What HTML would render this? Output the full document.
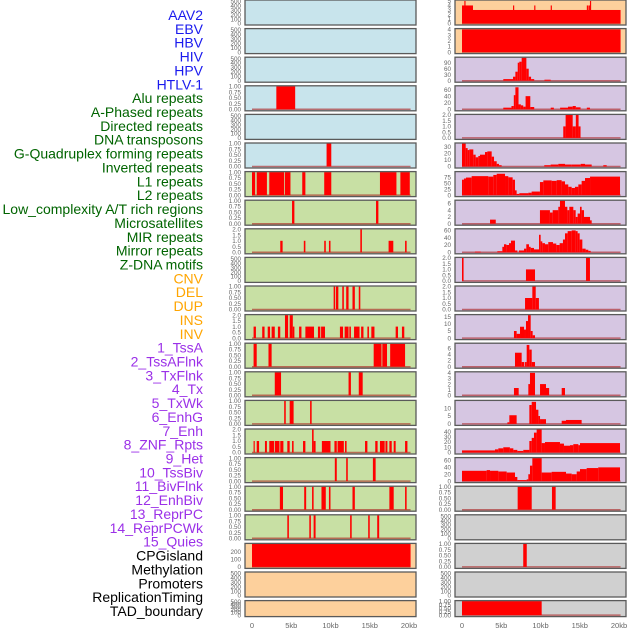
<!DOCTYPE html>
<html><head><meta charset="utf-8"><style>
html,body{margin:0;padding:0;background:#fff;width:630px;height:630px;overflow:hidden}
svg{display:block;font-family:"Liberation Sans",sans-serif}
</style></head><body>
<svg id="chart" width="630" height="630" viewBox="0 0 630 630" xmlns="http://www.w3.org/2000/svg">
<g id="labels"></g>
<g id="panels"></g>
<g id="xaxes"></g>
</svg>
<script>
// ---------- data ----------
const trackNames = ["AAV2","EBV","HBV","HIV","HPV","HTLV-1","Alu repeats","A-Phased repeats","Directed repeats","DNA transposons","G-Quadruplex forming repeats","Inverted repeats","L1 repeats","L2 repeats","Low_complexity A/T rich regions","Microsatellites","MIR repeats","Mirror repeats","Z-DNA motifs","CNV","DEL","DUP","INS","INV","1_TssA","2_TssAFlnk","3_TxFlnk","4_Tx","5_TxWk","6_EnhG","7_Enh","8_ZNF_Rpts","9_Het","10_TssBiv","11_BivFlnk","12_EnhBiv","13_ReprPC","14_ReprPCWk","15_Quies","CPGisland","Methylation","Promoters","ReplicationTiming","TAD_boundary"];
const trackGroups = [0,0,0,0,0,0,1,1,1,1,1,1,1,1,1,1,1,1,1,2,2,2,2,2,3,3,3,3,3,3,3,3,3,3,3,3,3,3,3,4,4,4,4,4];
const xTickLabels = ["0","5kb","10kb","15kb","20kb"];
const xTickValues = [0,5,10,15,20];

const T500 = ["0","100","200","300","400","500"], T500v=[0,100,200,300,400,500];
const T1 = ["0.00","0.25","0.50","0.75","1.00"], T1v=[0,0.25,0.5,0.75,1];
const T2 = ["0.0","0.5","1.0","1.5","2.0"], T2v=[0,0.5,1,1.5,2];

// intervals: [startKb, endKb, value]
const L3 = [[3.1,5.5,1]];
const L5 = [[9.5,10.1,1]];
const L6 = [[0,0.4,1],[0.6,1.9,1],[2.2,4.1,1],[4.2,4.9,1],[6.4,6.8,1],[9.2,10.1,1],[16.3,18.4,1],[18.9,20.1,1]];
const L7 = [[5.1,5.4,1],[15.8,16.1,1]];
const L8 = [[3.6,3.9,1],[6.6,6.8,1],[9.2,9.4,1],[9.8,10.0,1],[13.8,14.0,2],[17.4,18.0,1],[19.5,19.7,1]];
const L10 = [[10.4,10.6,1],[10.7,11.0,1],[11.5,11.7,1],[12.0,12.3,1],[12.8,13.1,1],[13.6,13.8,1]];
const L11 = [[0.2,0.5,1],[1.3,1.6,1],[2.0,2.3,1],[2.5,2.9,1],[3.3,3.6,1],[4.2,4.6,2],[4.8,5.2,2],[5.2,5.4,1],[6.0,6.3,1],[6.8,7.9,1],[8.4,8.7,1],[8.8,9.3,1],[11.2,11.6,1],[11.8,12.3,1],[12.4,12.6,1],[13.0,13.7,1],[13.9,14.2,1],[14.7,14.9,1],[15.2,15.6,1],[18.3,18.6,1],[19.1,19.4,1]];
const L12 = [[0.2,0.6,1],[2.1,2.5,1],[15.5,16.5,1],[16.6,17.2,1],[17.6,19.5,1]];
const L13 = [[2.9,3.7,1],[12.3,12.6,1],[13.6,14.1,1]];
const L14 = [[4.1,4.3,1],[4.8,5.3,1],[7.4,7.6,1]];
const L15 = [[0.2,0.35,1],[0.6,0.9,1],[1.65,1.9,1],[2.2,2.8,1],[2.9,3.5,1],[3.6,4.0,1],[4.5,4.8,1],[5.1,5.3,1],[6.5,6.8,1],[7.65,7.85,2],[7.85,8.1,1],[8.9,10.0,1],[10.5,10.8,1],[10.9,11.7,1],[11.85,12.05,1],[14.4,14.7,1],[15.7,16.0,1],[16.3,16.9,1],[17.0,17.25,1],[17.5,17.8,1],[18.05,18.3,1],[19.5,19.8,1]];
const L16 = [[10.55,10.8,1],[12.0,12.2,1],[15.4,15.75,1]];
const L17 = [[3.55,3.95,1],[6.65,6.9,1],[7.65,7.85,1],[8.85,9.4,1],[9.8,10.0,1],[12.8,13.1,1],[17.5,18.05,1],[19.5,19.7,1]];
const L18 = [[4.5,4.7,1],[7.3,7.5,1],[7.85,8.1,1],[12.5,12.7,1],[14.8,15.0,1],[15.95,16.2,1]];
const L19 = [[0,20.2,300]];
const R0 = [[0,20.2,3],[0,1.4,4],[0.3,0.45,5],[6.5,6.65,4],[9.2,9.35,4],[11.3,11.45,4],[15.9,16.05,4],[16.3,16.45,5],[16.1,16.3,4]];
const R1 = [[0,20.2,4]];
const R2 = [[5.26,6.5,8],[6.5,6.8,20],[6.8,7.1,45],[7.1,7.3,90],[7.3,7.6,95],[7.6,8.2,115],[8.2,8.5,60],[8.5,8.8,20],[8.8,9.2,8],[10.5,11.3,5]];
const R3 = [[5.26,6.3,5],[6.3,6.6,10],[6.6,6.8,43],[6.8,7.2,67],[7.2,7.5,15],[7.5,7.8,12],[7.8,8.1,8],[8.1,8.7,40],[8.7,9.2,7],[11.3,11.7,5],[12.5,13.5,5],[13.5,14.1,8],[14.1,14.5,10],[14.5,15.1,6],[15.9,16.3,5]];
const R4 = [[12.9,13.2,1],[13.2,14.1,2],[14.1,14.5,1],[14.5,14.85,2],[14.85,15.1,1]];
const R5 = [[0,0.47,35],[0.47,0.72,28],[0.72,0.93,25],[0.93,1.44,26],[1.44,1.74,18],[1.74,2.08,14],[2.08,2.29,16],[2.29,2.93,18],[2.93,3.23,22],[3.23,3.78,23],[3.78,4.08,15],[4.08,4.42,8],[4.42,4.71,4],[4.71,5.05,2],[10.48,11.29,2],[11.29,12.27,3],[12.27,13.12,4],[13.12,13.97,3],[13.97,15.12,3],[15.12,15.67,4],[15.67,16.52,3],[18.0,18.43,2]];
const R6 = [[0,0.25,65],[0.25,0.51,70],[0.51,1.23,74],[1.23,3.35,80],[3.35,3.99,78],[3.99,4.42,85],[4.42,5.48,90],[5.48,5.9,80],[5.9,6.45,75],[6.45,6.75,65],[6.75,6.96,20],[6.96,7.3,5],[7.3,8.45,8],[8.45,8.87,10],[8.87,9.93,15],[9.93,10.36,55],[10.36,11.42,62],[11.42,12.06,60],[12.06,12.69,63],[12.69,13.12,58],[13.12,13.54,45],[13.54,13.97,35],[13.97,14.39,30],[14.39,14.82,35],[14.82,15.24,45],[15.24,15.67,60],[15.67,16.31,72],[16.31,20.13,78]];
const R7 = [[3.57,4.3,1.2],[9.93,11.2,4],[11.2,11.55,3.3],[11.55,12.27,4],[12.27,12.48,5],[12.48,13.12,7],[13.12,13.42,5],[13.42,13.67,4],[13.67,14.18,5],[14.18,14.48,4],[14.48,14.73,2],[14.73,15.03,3],[15.03,15.24,5],[15.24,15.54,4],[15.54,16.31,2],[16.31,16.52,1]];
const R8 = [[1.65,2.38,2],[4.5,5.14,3],[5.14,5.35,15],[5.35,5.65,22],[5.65,5.99,20],[5.99,6.24,25],[6.24,6.75,32],[6.75,7.05,5],[7.26,7.9,5],[7.9,8.19,10],[8.19,8.53,22],[8.53,8.75,15],[8.75,9.17,12],[9.17,9.81,8],[9.81,10.02,48],[10.02,10.23,30],[10.23,10.57,25],[10.57,10.99,22],[10.99,11.59,28],[11.59,12.01,24],[12.01,12.44,20],[12.44,12.86,25],[12.86,13.12,35],[13.12,13.46,52],[13.46,13.97,58],[13.97,14.48,60],[14.48,14.73,58],[14.73,14.99,52],[14.99,15.33,35],[15.33,15.75,10],[15.75,16.09,7],[16.09,16.39,4]];
const R9 = [[0,0.2,2],[8.15,9.3,1],[15.8,16.3,2]];
const R10 = [[8.03,8.96,1],[8.96,9.39,2],[9.39,9.8,1]];
const R11 = [[6.62,6.96,5],[6.96,7.39,3],[7.39,7.9,8],[7.9,8.15,6],[8.15,8.41,12],[8.41,8.75,17],[8.75,9.0,5],[9.0,9.3,2]];
const R12 = [[6.75,7.6,4.5],[7.6,7.94,1.5],[8.03,8.24,1.5],[8.24,8.58,7],[8.58,8.88,5.5],[8.88,9.3,1.5]];
const R13 = [[6.62,7.22,1.3],[8.45,8.66,2],[8.66,9.3,4],[9.94,10.7,2],[10.7,11.1,1.3],[12.7,13.12,1.3]];
const R14 = [[5.78,6.03,1],[6.03,6.96,5.5],[8.58,8.88,12],[8.88,9.43,14],[9.43,9.73,9],[9.73,9.94,5],[9.94,10.7,3],[12.7,13.25,2],[13.25,15.24,2.5]];
const R15 = [[0,4.2,4],[4.2,4.63,6],[4.63,5.26,8],[5.26,6.1,10],[6.1,6.54,8],[6.54,7.05,5],[7.05,7.81,3],[7.81,8.58,5],[8.58,8.88,22],[8.88,9.17,28],[9.17,9.51,38],[9.51,10.15,44],[10.15,10.57,18],[10.57,12.48,20],[12.48,12.99,17],[12.99,13.76,13],[13.76,14.18,14],[14.18,14.82,16],[14.82,15.03,14],[15.03,20.13,18]];
const R16 = [[0,3.14,30],[3.14,3.57,32],[3.57,4.63,30],[4.63,5.69,28],[5.69,6.75,25],[6.75,7.05,12],[7.05,8.24,3],[8.24,8.45,5],[8.45,8.66,20],[8.66,8.96,45],[8.96,10.15,67],[10.15,11.42,25],[11.42,13.25,27],[13.25,13.97,22],[13.97,14.61,20],[14.61,15.03,28],[15.03,15.88,35],[15.88,17.35,38],[17.35,20.13,40]];
const R17 = [[7.09,8.88,1],[11.46,11.93,1]];
const R19 = [[7.8,8.25,1]];
const R21 = [[0,10.15,1]];

// ---------- layout ----------
const groupColors = ["#1a1aee","#006400","#ffa500","#9b30e8","#000000"];
const BG = {b:"#c8e4ec", g:"#c8e0a4", o:"#fdd09c", p:"#d6c6e2", y:"#d0d0d0"};
const panels = [
 {c:0,r:0,bg:"b",t:T500,tv:T500v,ym:520,d:null},
 {c:0,r:1,bg:"b",t:T500,tv:T500v,ym:520,d:null},
 {c:0,r:2,bg:"b",t:T500,tv:T500v,ym:520,d:null},
 {c:0,r:3,bg:"b",t:T1,tv:T1v,ym:1,d:L3},
 {c:0,r:4,bg:"b",t:T500,tv:T500v,ym:520,d:null},
 {c:0,r:5,bg:"b",t:T1,tv:T1v,ym:1,d:L5},
 {c:0,r:6,bg:"g",t:T1,tv:T1v,ym:1,d:L6},
 {c:0,r:7,bg:"g",t:T1,tv:T1v,ym:1,d:L7},
 {c:0,r:8,bg:"g",t:T2,tv:T2v,ym:2,d:L8},
 {c:0,r:9,bg:"g",t:T500,tv:T500v,ym:520,d:null},
 {c:0,r:10,bg:"g",t:T1,tv:T1v,ym:1,d:L10},
 {c:0,r:11,bg:"g",t:T2,tv:T2v,ym:2,d:L11},
 {c:0,r:12,bg:"g",t:T1,tv:T1v,ym:1,d:L12},
 {c:0,r:13,bg:"g",t:T1,tv:T1v,ym:1,d:L13},
 {c:0,r:14,bg:"g",t:T1,tv:T1v,ym:1,d:L14},
 {c:0,r:15,bg:"g",t:T2,tv:T2v,ym:2,d:L15},
 {c:0,r:16,bg:"g",t:T1,tv:T1v,ym:1,d:L16},
 {c:0,r:17,bg:"g",t:T1,tv:T1v,ym:1,d:L17},
 {c:0,r:18,bg:"g",t:T1,tv:T1v,ym:1,d:L18},
 {c:0,r:19,bg:"o",t:["0","100","200"],tv:[0,100,200],ym:300,d:L19},
 {c:0,r:20,bg:"o",t:T500,tv:T500v,ym:520,d:null},
 {c:0,r:21,bg:"o",t:T500,tv:T500v,ym:520,d:null},
 {c:1,r:0,bg:"o",t:["0","1","2","3","4","5"],tv:[0,1,2,3,4,5],ym:5.1,d:R0},
 {c:1,r:1,bg:"o",t:["0","1","2","3","4"],tv:[0,1,2,3,4],ym:4.05,d:R1},
 {c:1,r:2,bg:"p",t:["0","30","60","90"],tv:[0,30,60,90],ym:115,d:R2},
 {c:1,r:3,bg:"p",t:["0","20","40","60"],tv:[0,20,40,60],ym:70,d:R3},
 {c:1,r:4,bg:"p",t:T2,tv:T2v,ym:2,d:R4},
 {c:1,r:5,bg:"p",t:["0","10","20","30"],tv:[0,10,20,30],ym:35,d:R5},
 {c:1,r:6,bg:"p",t:["0","25","50","75"],tv:[0,25,50,75],ym:97,d:R6},
 {c:1,r:7,bg:"p",t:["0","2","4","6"],tv:[0,2,4,6],ym:6.8,d:R7},
 {c:1,r:8,bg:"p",t:["0","20","40","60"],tv:[0,20,40,60],ym:63,d:R8},
 {c:1,r:9,bg:"p",t:T2,tv:T2v,ym:2,d:R9},
 {c:1,r:10,bg:"p",t:T2,tv:T2v,ym:2,d:R10},
 {c:1,r:11,bg:"p",t:["0","5","10","15"],tv:[0,5,10,15],ym:16.2,d:R11},
 {c:1,r:12,bg:"p",t:["0","2","4","6"],tv:[0,2,4,6],ym:7.4,d:R12},
 {c:1,r:13,bg:"p",t:["0","1","2","3","4"],tv:[0,1,2,3,4],ym:4.1,d:R13},
 {c:1,r:14,bg:"p",t:["0","5","10"],tv:[0,5,10],ym:14.6,d:R14},
 {c:1,r:15,bg:"p",t:["0","10","20","30","40"],tv:[0,10,20,30,40],ym:44,d:R15},
 {c:1,r:16,bg:"p",t:["0","20","40","60"],tv:[0,20,40,60],ym:67,d:R16},
 {c:1,r:17,bg:"y",t:T1,tv:T1v,ym:1,d:R17},
 {c:1,r:18,bg:"y",t:T500,tv:T500v,ym:520,d:null},
 {c:1,r:19,bg:"y",t:T1,tv:T1v,ym:1,d:R19},
 {c:1,r:20,bg:"y",t:T500,tv:T500v,ym:520,d:null},
 {c:1,r:21,bg:"y",t:T1,tv:T1v,ym:1,d:R21}
];

const NS="http://www.w3.org/2000/svg";
function mk(tag, attrs, parent){const e=document.createElementNS(NS,tag);for(const k in attrs)e.setAttribute(k,attrs[k]);parent.appendChild(e);return e;}
const colX=[245,455], PW=171, dataX0=[252,462], PXKB=7.85, ROWH=28.6;
function xScale(c,kb){return dataX0[c]+kb*PXKB;}

// labels
const gl=document.getElementById("labels");
trackNames.forEach((n,i)=>{
  const t=mk("text",{x:203,y:15+i*13.86+5,"text-anchor":"end","font-size":"14",fill:groupColors[trackGroups[i]]},gl);
  
  
  t.textContent=n;
});

// panels
const gp=document.getElementById("panels");
panels.forEach((p,idx)=>{
  const top=p.r*ROWH, H=(p.r===21)?16:25;
  const x0=colX[p.c];
  const yB=top+H-1.5, yT=top+0.5;
  const yS=v=>yB-(v/p.ym)*(yB-yT);
  const g=mk("g",{},gp);
  
  
  const bg=mk("rect",{x:x0,y:top,width:PW,height:H,fill:BG[p.bg]},g);
  
  
  if(p.d){
    const bl=mk("line",{x1:xScale(p.c,0),x2:xScale(p.c,20.2),y1:yB,y2:yB,stroke:"rgba(170,30,30,0.6)","stroke-width":"1.5"},g);
    
    
    p.d.forEach(iv=>{
      const xa=xScale(p.c,iv[0]), xb=xScale(p.c,iv[1]);
      const y=Math.max(yS(iv[2]),top+0.5);
      const r=mk("rect",{x:xa,y:y,width:Math.max(xb-xa,1),height:yB-y,fill:"#ff0000"},g);
      
      
    });
  }
  const bd=mk("rect",{x:x0,y:top,width:PW,height:H,fill:"none",stroke:"#5a5a5a","stroke-width":"1.3"},g);
  
  
  p.t.forEach((lab,k)=>{
    const t=mk("text",{x:x0-4,y:yS(p.tv[k])+2.2,"text-anchor":"end","font-size":"6.3",fill:"#666"},g);
    
    
    t.textContent=lab;
  });
});

// x axes
const gx=document.getElementById("xaxes");
[0,1].forEach(c=>{
  xTickLabels.forEach((lab,k)=>{
    const t=mk("text",{x:xScale(c,xTickValues[k]),y:628,"text-anchor":"middle","font-size":"7.5",fill:"#666"},gx);
    
    
    t.textContent=lab;
  });
});
</script>
</body></html>
